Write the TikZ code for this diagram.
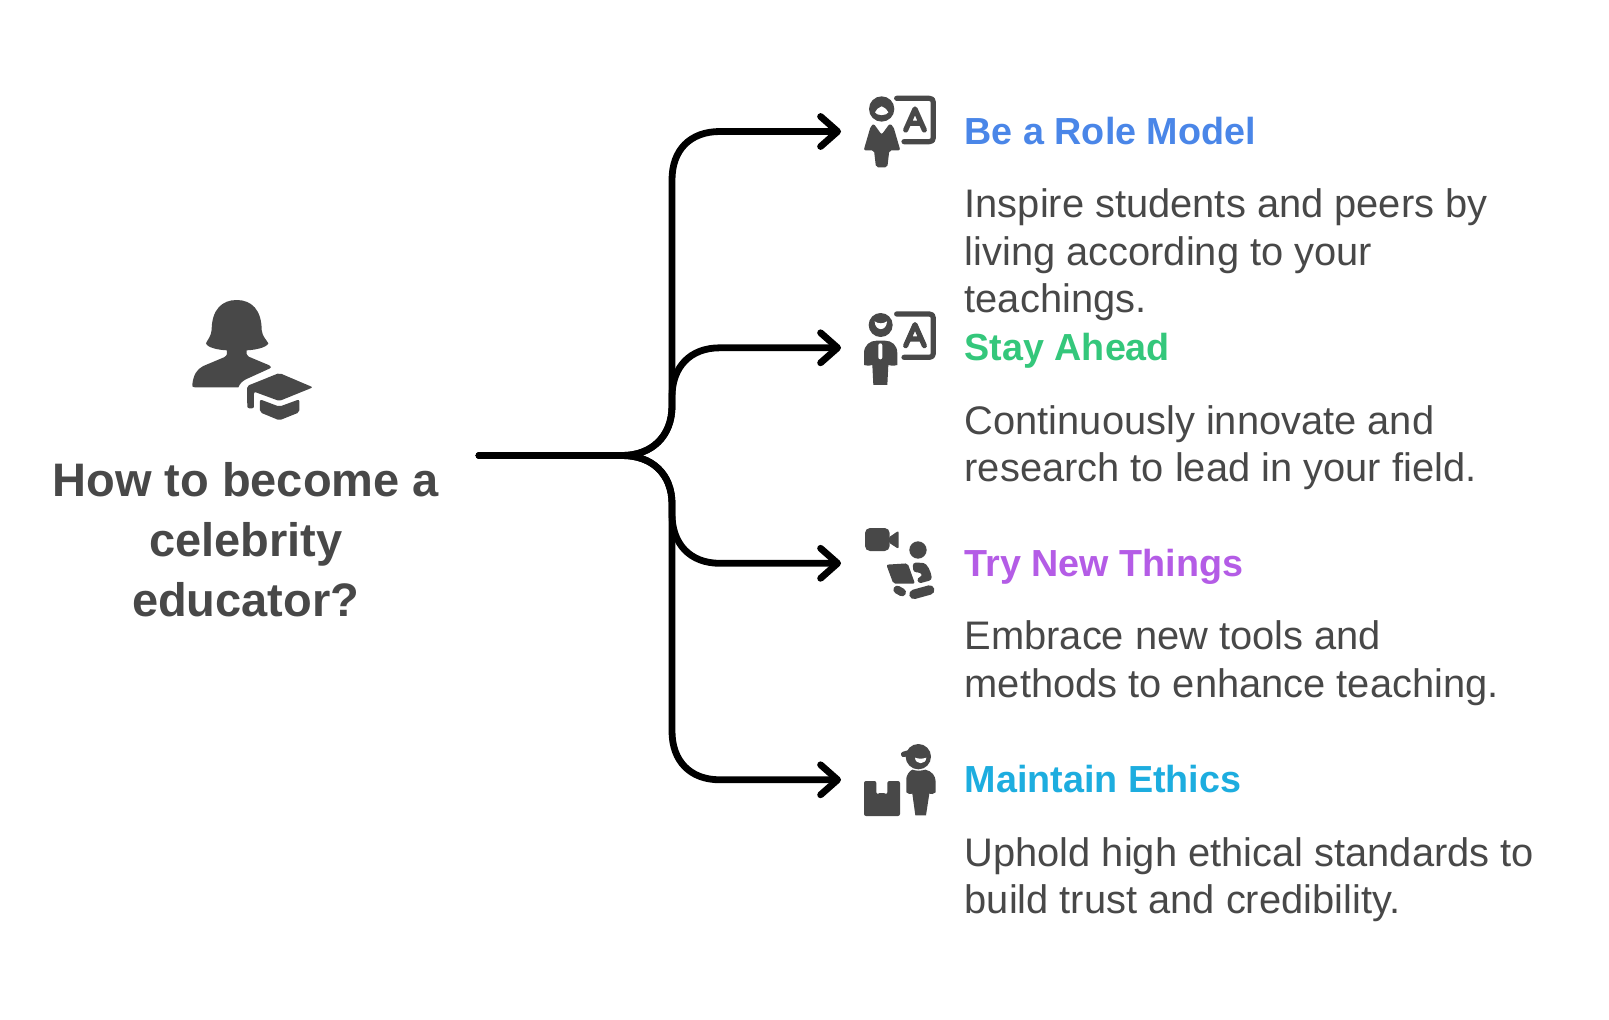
\documentclass[tikz,border=0pt]{standalone}
\usepackage{fontspec}
\setmainfont{Liberation Sans}
\usetikzlibrary{arrows.meta}
\definecolor{ink}{HTML}{484848}
\definecolor{cblue}{HTML}{4A86E8}
\definecolor{cgreen}{HTML}{34C77B}
\definecolor{cpurple}{HTML}{B45CE6}
\definecolor{ccyan}{HTML}{1DADDF}
\tikzset{
  trunk/.style={line width=6.8pt,line cap=round,black},
  tipped/.style={trunk,-{Straight Barb[length=17pt,width=30pt,line cap=round,round]}},
  headline/.style={anchor=base west,inner sep=0pt,font=\fontsize{37.7}{45}\selectfont\bfseries},
  body/.style={anchor=north west,inner sep=0pt,align=left,text=ink,font=\fontsize{39.85}{47.7}\selectfont},
  maintitle/.style={anchor=north,inner sep=0pt,align=center,text=ink,font=\fontsize{47}{60}\selectfont\bfseries},
  solid ink/.style={fill=ink,draw=none},
  hole/.style={fill=white,draw=none},
  board/.style={draw=ink,line width=5.2pt,line cap=round,line join=round,fill=none},
  zoomed/.style={shift={#1},x=0.3333pt,y=-0.3333pt},
}
\begin{document}
\begin{tikzpicture}[x=1pt,y=-1pt]
\useasboundingbox (0,0) rectangle (1609,1020);
\fill[white] (0,0) rectangle (1609,1020);

% connectors
\coordinate (src) at (479,455.5);
\coordinate (t1) at (841,131.5);
\coordinate (t2) at (841,347.8);
\coordinate (t3) at (841,563.3);
\coordinate (t4) at (841,779.8);
\draw[tipped] (src) -- (622,455.5) .. controls (652,455.5) and (672,436) .. (672,406)
  -- (672,180) .. controls (672,150) and (690,131.5) .. (720,131.5) -- (t1);
\draw[tipped] (src) -- (622,455.5) .. controls (652,455.5) and (672,436) .. (672,406)
  -- (672,397) .. controls (672,367) and (690,347.8) .. (720,347.8) -- (t2);
\draw[tipped] (src) -- (622,455.5) .. controls (652,455.5) and (672,474) .. (672,504)
  -- (672,514) .. controls (672,544) and (690,563.3) .. (720,563.3) -- (t3);
\draw[tipped] (src) -- (622,455.5) .. controls (652,455.5) and (672,474) .. (672,504)
  -- (672,731) .. controls (672,761) and (690,779.8) .. (720,779.8) -- (t4);

% main icon
\begin{scope}[zoomed={(170,280)}]
\fill[solid ink] (125,150) .. controls (125,90) and (155,60) .. (200,60)
  .. controls (245,60) and (275,90) .. (275,150)
  .. controls (277,170) and (290,180) .. (295,190)
  .. controls (290,203) and (255,210) .. (230,211)
  .. controls (228,220) and (230,226) .. (236,230)
  -- (298,256) .. controls (305,260) and (305,263) .. (298,266)
  -- (232,296) .. controls (218,302) and (210,310) .. (205,322)
  -- (75,322) .. controls (68,322) and (66,320) .. (67,314)
  .. controls (70,285) and (80,268) .. (100,258)
  -- (162,232) .. controls (172,226) and (173,220) .. (171,211)
  .. controls (145,210) and (112,203) .. (108,190)
  .. controls (112,180) and (123,170) .. (125,150) -- cycle;
\fill[solid ink,rounded corners=2pt] (231,318) -- (328,279) -- (429,322) -- (328,363) -- (252,335) -- (252,385) -- (232,385) -- cycle;
\fill[solid ink,rounded corners=2pt] (270,358) -- (328,380) -- (388,358) -- (388,397) -- (328,421) -- (270,397) -- cycle;
\end{scope}

% icon 1
\begin{scope}[zoomed={(850,85)}]
\fill[solid ink] (95,72) circle[radius=38];
\fill[hole] (75,82) .. controls (78,72) and (85,70) .. (95,64) .. controls (105,70) and (112,72) .. (115,82) .. controls (111,93) and (79,93) .. (75,82) -- cycle;
\fill[solid ink,rounded corners=2pt] (71,116) -- (95,149) -- (119,116) -- (130,124) -- (151,196) -- (118,196) -- (112,247) -- (78,247) -- (72,196) -- (41,196) -- (62,124) -- cycle;
\draw[board] (140,40) -- (238,40) .. controls (246,40) and (250,44) .. (250,52) -- (250,158) .. controls (250,166) and (246,170) .. (238,170) -- (162,170);
\draw[board] (167,135) -- (195,72) -- (223,135) (176,115) -- (214,115);
\end{scope}

% icon 2
\begin{scope}[zoomed={(850,300)}]
\fill[solid ink] (92,75) circle[radius=36];
\fill[hole] (74,64) .. controls (85,72) and (100,72) .. (111,64) .. controls (110,95) and (75,95) .. (74,64) -- cycle;
\fill[solid ink] (42,195) -- (42,160) .. controls (42,135) and (60,122) .. (80,122) -- (105,122) .. controls (125,122) and (142,135) .. (142,160) -- (142,195) .. controls (130,198) and (120,198) .. (115,195) -- (112,255) -- (70,255) -- (67,195) .. controls (60,198) and (50,198) .. (42,195) -- cycle;
\fill[hole,rounded corners=2pt] (85,130) rectangle (97,178);
\draw[board] (140,42) -- (238,42) .. controls (246,42) and (250,46) .. (250,54) -- (250,160) .. controls (250,168) and (246,172) .. (238,172) -- (162,172);
\draw[board] (167,137) -- (195,74) -- (223,137) (176,117) -- (214,117);
\end{scope}

% icon 3
\begin{scope}[zoomed={(850,515)}]
\fill[solid ink,rounded corners=5pt] (45,39) rectangle (119,108);
\fill[solid ink,rounded corners=2pt] (115,68) -- (146,47) -- (146,102) -- (115,82) -- cycle;
\fill[solid ink] (204,105) circle[radius=26];
\fill[solid ink,rounded corners=2pt] (109,149) -- (173,145) -- (195,206) -- (130,206) -- cycle;
\fill[solid ink,rounded corners=3pt] (188,143) -- (212,143) .. controls (232,146) and (243,170) .. (246,195) -- (205,206) -- (201,188) -- (218,184) -- (212,172) -- (190,172) -- cycle;
\draw[ink,line width=8pt,line cap=round] (142,224) -- (156,232);
\draw[ink,line width=9.5pt,line cap=round] (192,238) -- (239,225);
\end{scope}

% icon 4
\begin{scope}[zoomed={(850,735)}]
\fill[solid ink,rounded corners=2pt] (42,138) -- (79,138) -- (79,178) -- (95,172) -- (112,178) -- (112,138) -- (150,138) -- (150,243) -- (42,243) -- cycle;
\fill[solid ink] (205,65) circle[radius=38];
\draw[ink,line width=5.5pt,line cap=round] (161,58) -- (190,50);
\fill[hole] (195,68) .. controls (205,72) and (218,72) .. (229,68) .. controls (228,90) and (196,90) .. (195,68) -- cycle;
\fill[solid ink] (187,104) .. controls (198,108) and (215,108) .. (226,104) .. controls (245,108) and (257,122) .. (257,140) -- (257,172) .. controls (250,178) and (243,178) .. (238,176) -- (228,241) -- (196,241) -- (187,176) .. controls (181,178) and (175,178) .. (169,172) -- (169,130) .. controls (170,120) and (178,108) .. (187,104) -- cycle;
\end{scope}

% texts
\node[maintitle] (q) at (245.7,462) {How to become a\\celebrity\\educator?};

\node[headline,text=cblue] (h1) at (964.5,144) {Be a Role Model};
\node[body] (b1) at (964.5,188.5) {Inspire students and peers by\\living according to your\\teachings.};
\node[headline,text=cgreen] (h2) at (964.5,360) {Stay Ahead};
\node[body] (b2) at (964.5,405) {Continuously innovate and\\research to lead in your field.};
\node[headline,text=cpurple] (h3) at (964.5,576) {Try New Things};
\node[body] (b3) at (964.5,620.5) {Embrace new tools and\\methods to enhance teaching.};
\node[headline,text=ccyan] (h4) at (964.5,792) {Maintain Ethics};
\node[body] (b4) at (964.5,837) {Uphold high ethical standards to\\build trust and credibility.};
\end{tikzpicture}
\end{document}
